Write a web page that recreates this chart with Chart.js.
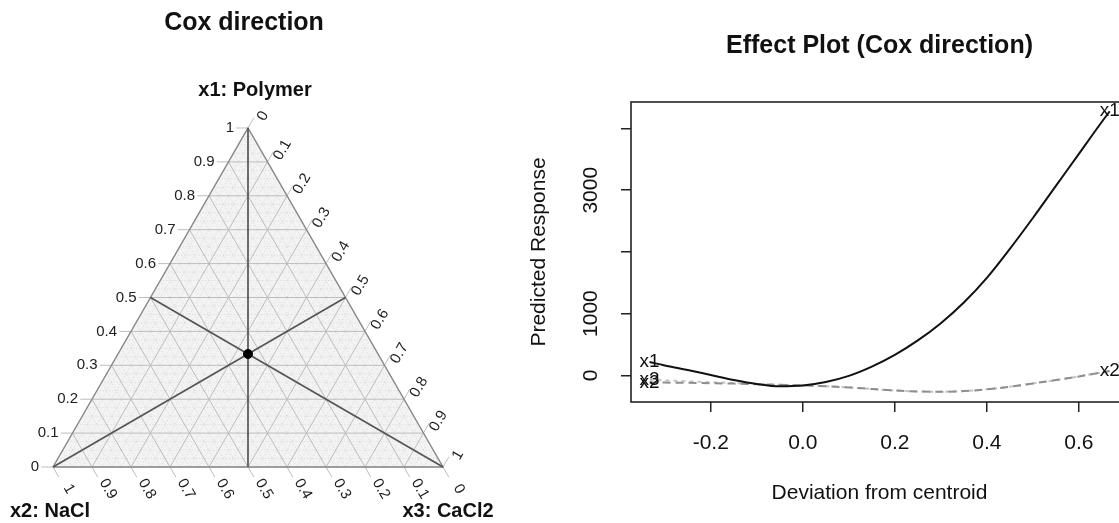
<!DOCTYPE html>
<html>
<head>
<meta charset="utf-8">
<title>Cox direction</title>
<script src="https://cdn.jsdelivr.net/npm/chart.js@4.4.0/dist/chart.umd.min.js"></script>
<style>
  html, body { margin: 0; padding: 0; background: #fff; overflow: hidden; width: 1119px; height: 523px; }
  #ternWrap { position: absolute; left: 0; top: 0; }
  #effWrap { position: absolute; left: 530px; top: 0; }
</style>
</head>
<body>
<div id="ternWrap"><canvas id="ternChart" width="530" height="523"></canvas></div>
<div id="effWrap"><canvas id="effectChart" width="650" height="523"></canvas></div>
<script>
// ---- ternary panel (Cox direction) ----
const components = ['x1: Polymer', 'x2: NaCl', 'x3: CaCl2'];
const axisTicks = [0, 0.1, 0.2, 0.3, 0.4, 0.5, 0.6, 0.7, 0.8, 0.9, 1];
const axisTickLabels = ['0', '0.1', '0.2', '0.3', '0.4', '0.5', '0.6', '0.7', '0.8', '0.9', '1'];
const centroid = [1 / 3, 1 / 3, 1 / 3];
const coxLines = [
  [[1, 0, 0], [0, 0.5, 0.5]],
  [[0, 1, 0], [0.5, 0, 0.5]],
  [[0, 0, 1], [0.5, 0.5, 0]]
];

// ---- effect plot ----
const deviation = [-0.333, -0.3, -0.25, -0.2, -0.15, -0.1, -0.05, 0, 0.05, 0.1, 0.15, 0.2, 0.25, 0.3, 0.35, 0.4, 0.45, 0.5, 0.55, 0.6, 0.65, 0.667];
const effX1 = [216, 160, 85, 5, -75, -140, -178, -165, -110, -10, 140, 330, 565, 845, 1180, 1580, 2050, 2550, 3070, 3590, 4110, 4280];
const effX2 = [-115, -118, -122, -128, -135, -145, -155, -165, -178, -196, -222, -246, -262, -266, -256, -228, -185, -132, -78, -18, 48, 70];
const effX3 = [-72, -82, -98, -112, -126, -140, -153, -165, -178, -196, -222, -246, -262, -266, -256, -228, -185, -132, -78, -18, 48, 70];
const seriesNames = ['x1', 'x2', 'x3'];
const yTickValues = [0, 1000, 2000, 3000, 4000];
const yTicksShown = [0, 1000, 3000];

const FONT = '"Liberation Sans", Arial, sans-serif';
const SQ = Math.sqrt(3) / 2;

// ternary (x1, x2, x3) -> cartesian
function toXY(p) {
  return { x: p[2] + p[0] / 2, y: p[0] * SQ };
}

function seg(a, b, style, order) {
  return Object.assign({
    type: 'scatter', data: [toXY(a), toXY(b)], showLine: true,
    pointRadius: 0, clip: false, fill: false, order: order
  }, style);
}

const ternSets = [];
// fine dotted grid
const minorStyle = { borderColor: '#cfcfcf', borderWidth: 0.8, borderDash: [1, 2] };
for (let k = 1; k < 40; k++) {
  if (k % 4 === 0) continue;
  const v = k / 40;
  ternSets.push(seg([v, 1 - v, 0], [v, 0, 1 - v], minorStyle, 5));
  ternSets.push(seg([1 - v, v, 0], [0, v, 1 - v], minorStyle, 5));
  ternSets.push(seg([1 - v, 0, v], [0, 1 - v, v], minorStyle, 5));
}
// major grid, carried past the edge as tick marks
const majorStyle = { borderColor: '#bdbdbd', borderWidth: 1 };
const e = 0.03;
axisTicks.forEach(v => {
  ternSets.push(seg([v, 1 - v + e, -e], [v, 0, 1 - v], majorStyle, 4));
  ternSets.push(seg([1 - v, v, 0], [-e, v, 1 - v + e], majorStyle, 4));
  ternSets.push(seg([0, 1 - v, v], [1 - v + e, -e, v], majorStyle, 4));
});
// triangle
ternSets.push(Object.assign(seg([0, 1, 0], [0, 0, 1], {}, 2), {
  data: [toXY([0, 1, 0]), toXY([0, 0, 1]), toXY([1, 0, 0]), toXY([0, 1, 0])],
  borderColor: '#8a8a8a', borderWidth: 1.4
}));
// Cox direction lines
coxLines.forEach(l => ternSets.push(seg(l[0], l[1], { borderColor: '#555', borderWidth: 1.7 }, 1)));
// centroid
ternSets.push({
  type: 'scatter', data: [toXY(centroid)], pointRadius: 4.5,
  backgroundColor: '#000', borderColor: '#000', clip: false, order: 0
});

const ternPlugin = {
  id: 'ternDecor',
  beforeDatasetsDraw(chart) {
    const { ctx, scales: { x, y } } = chart;
    const verts = [[0, 1, 0], [0, 0, 1], [1, 0, 0]].map(toXY);
    ctx.save();
    ctx.beginPath();
    verts.forEach((p, i) => {
      const px = x.getPixelForValue(p.x), py = y.getPixelForValue(p.y);
      if (i === 0) ctx.moveTo(px, py); else ctx.lineTo(px, py);
    });
    ctx.closePath();
    ctx.fillStyle = '#f3f3f3';
    ctx.fill();
    ctx.restore();
  },
  afterDraw(chart) {
    const { ctx, scales: { x, y } } = chart;
    const pix = p => { const c = toXY(p); return { x: x.getPixelForValue(c.x), y: y.getPixelForValue(c.y) }; };
    ctx.save();
    ctx.fillStyle = '#222';
    ctx.font = '15px ' + FONT;
    axisTicks.forEach((v, i) => {
      const lab = axisTickLabels[i];
      // left edge: x1
      let p = pix([v, 1 - v, 0]);
      ctx.textAlign = 'right';
      ctx.textBaseline = 'middle';
      ctx.fillText(lab, p.x - 14, p.y);
      // bottom edge: x2
      p = pix([0, v, 1 - v]);
      ctx.save();
      ctx.translate(p.x + 16, p.y + 22);
      ctx.rotate(Math.PI / 3);
      ctx.textAlign = 'center';
      ctx.fillText(lab, 0, 0);
      ctx.restore();
      // right edge: x3
      p = pix([1 - v, 0, v]);
      ctx.save();
      ctx.translate(p.x + 15, p.y - 12);
      ctx.rotate(-Math.PI / 3);
      ctx.textAlign = 'center';
      ctx.fillText(lab, 0, 0);
      ctx.restore();
    });
    // component names and title
    ctx.fillStyle = '#111';
    ctx.textAlign = 'center';
    ctx.textBaseline = 'alphabetic';
    ctx.font = 'bold 20px ' + FONT;
    const top = pix([1, 0, 0]), bl = pix([0, 1, 0]), br = pix([0, 0, 1]);
    ctx.fillText(components[0], top.x + 7, top.y - 32);
    ctx.fillText(components[1], bl.x - 3, bl.y + 50);
    ctx.fillText(components[2], br.x + 5, br.y + 50);
    ctx.font = 'bold 25px ' + FONT;
    ctx.fillText('Cox direction', top.x - 4, 30);
    ctx.restore();
  }
};

new Chart(document.getElementById('ternChart'), {
  type: 'scatter',
  data: { datasets: ternSets },
  options: {
    responsive: false,
    animation: false,
    layout: { padding: { left: 53, right: 87, top: 128, bottom: 56 } },
    plugins: { legend: { display: false }, tooltip: { enabled: false } },
    scales: {
      x: { type: 'linear', min: 0, max: 1, display: false },
      y: { type: 'linear', min: 0, max: SQ, display: false }
    }
  },
  plugins: [ternPlugin]
});

// ---- effect plot ----
const effSeries = [effX1, effX2, effX3];
const effPlugin = {
  id: 'effDecor',
  afterDatasetsDraw(chart) {
    const { ctx, chartArea: a, scales: { x, y } } = chart;
    ctx.save();
    ctx.strokeStyle = '#222';
    ctx.lineWidth = 1.6;
    ctx.strokeRect(a.left, a.top, a.right - a.left, a.bottom - a.top);
    // series names at both ends of each curve (a label sitting exactly under another is skipped)
    ctx.fillStyle = '#111';
    ctx.font = '19px ' + FONT;
    ctx.textAlign = 'center';
    ctx.textBaseline = 'middle';
    const last = deviation.length - 1;
    const placed = [];
    [0, 1, 2].forEach(s => {
      [0, last].forEach(i => {
        const key = deviation[i] + ':' + effSeries[s][i];
        if (placed.includes(key)) return;
        placed.push(key);
        ctx.fillText(seriesNames[s], x.getPixelForValue(deviation[i]), y.getPixelForValue(effSeries[s][i]));
      });
    });
    ctx.font = 'bold 25px ' + FONT;
    ctx.textBaseline = 'alphabetic';
    ctx.fillText('Effect Plot (Cox direction)', (a.left + a.right) / 2, 53);
    ctx.restore();
  }
};

function lineSet(s, color, dash, width, order) {
  return {
    label: seriesNames[s],
    data: deviation.map((d, i) => ({ x: d, y: effSeries[s][i] })),
    borderColor: color, borderDash: dash, borderWidth: width,
    pointRadius: 0, fill: false, cubicInterpolationMode: 'monotone', order: order
  };
}

new Chart(document.getElementById('effectChart'), {
  type: 'line',
  data: {
    datasets: [
      lineSet(0, '#111', [], 2, 0),
      lineSet(1, '#8e8e8e', [8, 5], 2, 1),
      lineSet(2, '#c4c4c4', [4, 4], 2, 2)
    ]
  },
  options: {
    responsive: false,
    animation: false,
    layout: { padding: { left: 0, right: 52, top: 102, bottom: 0 } },
    plugins: { legend: { display: false }, tooltip: { enabled: false } },
    scales: {
      x: {
        type: 'linear', min: -0.3733, max: 0.7067,
        border: { display: false },
        grid: { drawOnChartArea: false, drawTicks: true, tickLength: 10, color: '#222', lineWidth: 1.5 },
        ticks: {
          stepSize: 0.2, includeBounds: false, padding: 19, color: '#111',
          font: { family: FONT, size: 21 }, maxRotation: 0,
          callback: v => (Math.abs(v) < 1e-9 ? 0 : v).toFixed(1)
        },
        title: { display: true, text: 'Deviation from centroid', color: '#111', font: { family: FONT, size: 21 }, padding: { top: 0, bottom: 17 } },
        afterFit: s => { s.height = 121; }
      },
      y: {
        type: 'linear', min: -433, max: 4430,
        border: { display: false },
        grid: { drawOnChartArea: false, drawTicks: true, tickLength: 10, color: '#222', lineWidth: 1.5 },
        ticks: {
          padding: 6, color: '#111',
          font: { family: FONT, size: 21 }, minRotation: 90, maxRotation: 90, crossAlign: 'center',
          callback: v => (yTicksShown.includes(v) ? String(v) : '')
        },
        afterBuildTicks: s => { s.ticks = yTickValues.map(v => ({ value: v })); },
        title: { display: true, text: 'Predicted Response', color: '#111', font: { family: FONT, size: 21, lineHeight: 0.86 }, padding: 0 },
        afterFit: s => { s.width = 101; }
      }
    }
  },
  plugins: [effPlugin]
});
</script>
</body>
</html>
